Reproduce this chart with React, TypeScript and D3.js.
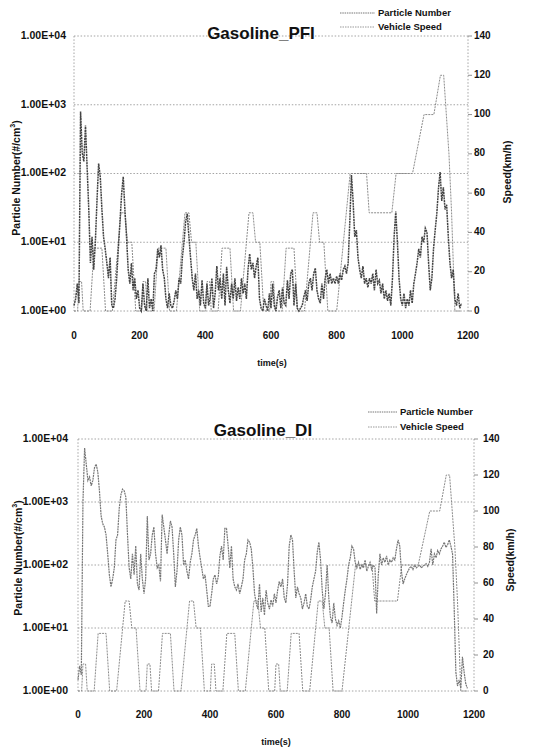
import React from "react";
import * as d3 from "d3";

const TIME_STEP = 5; // seconds between particle-number samples

// Particle number (#/cm3), Gasoline PFI, one value every 5 s from t=0
const pnPFI = [
  1.2, 1.5, 2.5, 1.3, 800, 200, 150, 500, 120, 30,
  5, 12, 4, 10, 40, 140, 90, 30, 12, 8,
  5, 3, 6, 1.2, 1.1, 1.5, 3, 8, 20, 50,
  90, 30, 12, 4, 2.5, 5, 2, 3, 1.5, 2,
  1.1, 1, 2.5, 1.2, 1, 3, 1.1, 1.5, 1, 3.5,
  4, 8, 6, 9, 4, 3, 1.5, 1.1, 1.8, 1.2,
  1.1, 1.4, 2, 1.5, 3, 2.5, 6, 10, 20, 26,
  12, 6, 3, 2, 3.5, 1.5, 2, 1.2, 2.8, 1.3,
  1.1, 2.5, 1.2, 1.6, 3, 1.1, 1.8, 4.5, 2, 3,
  1.5, 3.5, 1.2, 4.4, 2, 1.3, 2.5, 1.5, 3, 1.4,
  2.2, 1.5, 3, 1.8, 2.5, 1.5, 4, 6.8, 4, 5,
  3, 4.5, 6, 1.5, 1.1, 1, 1.5, 1.2, 1, 1.8,
  1.1, 2.5, 1.2, 1, 1.6, 2, 1.1, 2.2, 1.3, 1.2,
  2.8, 1.5, 3.5, 4, 1.2, 2.5, 1.1, 1, 1.1, 1.2,
  1.6, 2, 1.4, 2.5, 3, 2, 3.5, 4.2, 2, 1.5,
  1.3, 2.5, 1.5, 3, 4, 2.5, 3.5, 2.5, 3, 2.5,
  3.2, 2.5, 3.5, 2.8, 4, 4.5, 3.5, 5, 20, 95,
  40, 12, 15, 6, 4, 3, 4.5, 2.5, 3, 2.2,
  3, 2.5, 3.5, 2, 4, 2.5, 2.8, 1.8, 2.5, 1.5,
  2, 1.4, 1.8, 1.2, 3, 12, 28, 10, 3, 1.5,
  1.2, 1.8, 1.1, 1.5, 1.2, 2, 1.3, 2.5, 3.5, 5,
  8, 6, 12, 10, 16, 14, 5, 2, 3, 8,
  15, 26, 60, 105, 40, 63, 30, 35, 12, 5,
  3, 4, 1.5, 1.2, 1.8, 1.1, 1.3,
];

// Particle number (#/cm3), Gasoline DI, one value every 5 s from t=0
const pnDI = [
  1.5, 2.5, 1.8, 1000, 7200, 4000, 2200, 2500, 1800, 2200,
  3500, 4000, 3000, 1500, 600, 450, 400, 300, 150, 70,
  45, 60, 90, 250, 300, 800, 1300, 1600, 1500, 1200,
  300, 90, 60, 150, 70, 200, 50, 40, 150, 60,
  35, 60, 600, 120, 150, 300, 400, 150, 90, 100,
  55, 630, 400, 250, 150, 300, 500, 400, 150, 45,
  80, 250, 400, 300, 100, 120, 80, 60, 110, 150,
  250, 300, 380, 200, 130, 90, 60, 70, 40, 22,
  22, 35, 60, 70, 50, 65, 140, 200, 120, 380,
  380, 200, 90, 200, 60, 45, 40, 50, 35, 45,
  60, 120, 150, 250, 230, 180, 90, 35, 25, 20,
  50, 18, 30, 16, 40, 25, 20, 28, 22, 35,
  25, 40, 55, 45, 60, 30, 25, 50, 200, 300,
  250, 80, 30, 45, 35, 30, 20, 25, 35, 22,
  20, 28, 45, 60, 80, 160, 230, 120, 40, 20,
  35, 100, 30, 15, 12, 25, 14, 11, 13, 10,
  15, 25, 40, 60, 100, 130, 200, 180, 110, 90,
  110, 85, 100, 90, 120, 80, 95, 110, 85, 100,
  90, 17, 70, 150, 100, 130, 110, 140, 100, 120,
  110, 130, 120, 180, 250, 200, 80, 50, 60, 70,
  80, 90, 95, 85, 100, 90, 95, 100, 90, 95,
  100, 105, 95, 110, 180, 100, 150, 130, 170, 150,
  180, 200, 230, 190, 210, 250, 200, 150, 20, 2,
  1.2, 1.5, 1.1, 3.5, 2.0, 1.3, 1.1,
];

// Vehicle speed (km/h) breakpoints of the driving cycle
const speedTime = [
  0, 11, 15, 23, 28, 49, 61, 85, 96, 117, 143, 155, 163, 176, 188, 195,
  206, 210, 218, 223, 244, 256, 280, 291, 312, 338, 350, 358, 371, 383, 390,
  401, 405, 413, 418, 439, 451, 475, 486, 507, 533, 545, 553, 566, 578, 585,
  596, 600, 608, 613, 634, 646, 670, 681, 702, 728, 740, 748, 761, 773, 780,
  800, 841, 891, 899, 968, 981, 1031, 1066, 1096, 1116, 1126, 1142, 1150, 1160, 1180,
];
const speedKmh = [
  0, 0, 15, 15, 0, 0, 32, 32, 0, 0, 50, 50, 35, 35, 0, 0,
  0, 15, 15, 0, 0, 32, 32, 0, 0, 50, 50, 35, 35, 0, 0,
  0, 15, 15, 0, 0, 32, 32, 0, 0, 50, 50, 35, 35, 0, 0,
  0, 15, 15, 0, 0, 32, 32, 0, 0, 50, 50, 35, 35, 0, 0,
  0, 70, 70, 50, 50, 70, 70, 100, 100, 120, 120, 80, 50, 0, 0,
];

const timeTicks = [0, 200, 400, 600, 800, 1000, 1200];
const pnTicks = [1, 10, 100, 1000, 10000];
const pnTickLabels = ["1.00E+00", "1.00E+01", "1.00E+02", "1.00E+03", "1.00E+04"];
const speedTicks = [0, 20, 40, 60, 80, 100, 120, 140];

const FONT = "'Liberation Sans', Arial, sans-serif";

type Layout = {
  l: number; r: number; t: number; b: number;
  titleX: number; titleY: number;
  legLineX0: number; legLineX1: number; legTextX: number; legY0: number; legY1: number;
  leftLabelX: number; rightLabelX: number;
  xLabelY: number; xTitleX: number; xTitleY: number;
  yTitleX: number; yTitleY: number; rTitleX: number; rTitleY: number;
};

function Panel({ title, pn, L, pnColor, pnWidth }: { title: string; pn: number[]; L: Layout; pnColor: string; pnWidth: number }) {
  const x = d3.scaleLinear().domain([0, 1200]).range([L.l, L.r]);
  const yL = d3.scaleLog().domain([1, 10000]).range([L.b, L.t]);
  const yR = d3.scaleLinear().domain([0, 140]).range([L.b, L.t]);

  const pnLine = d3
    .line<number>()
    .x((_, i) => x(i * TIME_STEP))
    .y((d) => yL(Math.max(1, d)));
  const spLine = d3
    .line<number>()
    .x((_, i) => x(speedTime[i]))
    .y((d) => yR(d));

  const grid = "#9a9a9a";
  return (
    <g>
      {pnTicks.map((v) => (
        <line key={"g" + v} x1={L.l} x2={L.r} y1={yL(v)} y2={yL(v)} stroke={grid} strokeWidth={0.9} strokeDasharray="1.5,1.8" />
      ))}
      <line x1={L.l} x2={L.l} y1={L.t} y2={L.b} stroke={grid} strokeWidth={0.9} strokeDasharray="1.5,1.8" />
      <line x1={L.r} x2={L.r} y1={L.t} y2={L.b} stroke={grid} strokeWidth={0.9} strokeDasharray="1.5,1.8" />
      {speedTicks.map((v) => (
        <line key={"rt" + v} x1={L.r} x2={L.r + 4} y1={yR(v)} y2={yR(v)} stroke="#777" strokeWidth={0.8} />
      ))}
      <path d={spLine(speedKmh) || ""} fill="none" stroke="#8c8c8c" strokeWidth={1} strokeDasharray="2,1" />
      <path d={pnLine(pn) || ""} fill="none" stroke={pnColor} strokeWidth={pnWidth} strokeDasharray="2,0.7" />

      {/* Title */}
      <text x={L.titleX} y={L.titleY} textAnchor="middle" fontFamily={FONT} fontWeight="bold" fontSize={17} fill="#111">
        {title}
      </text>

      {/* Legend */}
      <line x1={L.legLineX0} x2={L.legLineX1} y1={L.legY0} y2={L.legY0} stroke="#777" strokeWidth={1} strokeDasharray="1.5,0.8" />
      <line x1={L.legLineX0} x2={L.legLineX1} y1={L.legY1} y2={L.legY1} stroke="#999" strokeWidth={1} strokeDasharray="1.5,1" />
      <text x={L.legTextX} y={L.legY0} dominantBaseline="middle" fontFamily={FONT} fontWeight="bold" fontSize={9.5} fill="#111">
        Particle Number
      </text>
      <text x={L.legTextX} y={L.legY1} dominantBaseline="middle" fontFamily={FONT} fontWeight="bold" fontSize={9.5} fill="#111">
        Vehicle Speed
      </text>

      {/* Left axis labels */}
      {pnTicks.map((v, i) => (
        <text key={"ll" + v} x={L.leftLabelX} y={yL(v)} textAnchor="end" dominantBaseline="middle" fontFamily={FONT} fontWeight="bold" fontSize={10.5} fill="#111">
          {pnTickLabels[i]}
        </text>
      ))}
      {/* Right axis labels */}
      {speedTicks.map((v) => (
        <text key={"rl" + v} x={L.rightLabelX} y={yR(v)} dominantBaseline="middle" fontFamily={FONT} fontWeight="bold" fontSize={10} fill="#111">
          {v}
        </text>
      ))}
      {/* X axis labels */}
      {timeTicks.map((v) => (
        <text key={"xl" + v} x={x(v)} y={L.xLabelY} textAnchor="middle" fontFamily={FONT} fontWeight="bold" fontSize={10} fill="#111">
          {v}
        </text>
      ))}
      <text x={L.xTitleX} y={L.xTitleY} textAnchor="middle" fontFamily={FONT} fontWeight="bold" fontSize={9} fill="#111">
        time(s)
      </text>
      <text
        transform={`translate(${L.yTitleX},${L.yTitleY}) rotate(-90)`}
        textAnchor="middle"
        dominantBaseline="middle"
        fontFamily={FONT}
        fontWeight="bold"
        fontSize={10.5}
        fill="#111"
      >
        Particle Number(#/cm<tspan dy={-4} fontSize={7}>3</tspan><tspan dy={4}>)</tspan>
      </text>
      <text
        transform={`translate(${L.rTitleX},${L.rTitleY}) rotate(-90)`}
        textAnchor="middle"
        dominantBaseline="middle"
        fontFamily={FONT}
        fontWeight="bold"
        fontSize={10.5}
        fill="#111"
      >
        Speed(km/h)
      </text>
    </g>
  );
}

const topLayout: Layout = {
  l: 74, r: 468, t: 36, b: 311,
  titleX: 261, titleY: 39,
  legLineX0: 340, legLineX1: 375, legTextX: 378, legY0: 13, legY1: 27,
  leftLabelX: 66, rightLabelX: 474,
  xLabelY: 339, xTitleX: 272, xTitleY: 366,
  yTitleX: 17, yTitleY: 178, rTitleX: 508, rTitleY: 172,
};

const bottomLayout: Layout = {
  l: 78, r: 474, t: 439, b: 691,
  titleX: 263, titleY: 436,
  legLineX0: 368, legLineX1: 397, legTextX: 400, legY0: 412, legY1: 427,
  leftLabelX: 68, rightLabelX: 483,
  xLabelY: 718, xTitleX: 276, xTitleY: 745,
  yTitleX: 19, yTitleY: 558, rTitleX: 511, rTitleY: 560,
};

export default function App() {
  return (
    <svg
      width={547}
      height={749}
      style={{ position: "absolute", left: 0, top: 0, background: "#fff" }}
    >
      <rect width={547} height={749} fill="#fff" />
      <Panel title="Gasoline_PFI" pn={pnPFI} L={topLayout} pnColor="#444" pnWidth={1.5} />
      <Panel title="Gasoline_DI" pn={pnDI} L={bottomLayout} pnColor="#777" pnWidth={1.2} />
    </svg>
  );
}
